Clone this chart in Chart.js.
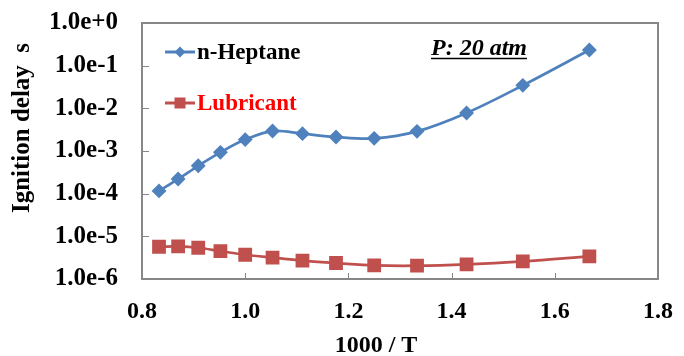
<!DOCTYPE html>
<html>
<head>
<meta charset="utf-8">
<script src="https://cdn.jsdelivr.net/npm/chart.js@4"></script>
<style>
  html,body{margin:0;padding:0;background:#fff;}
  #wrap{width:684px;height:356px;}
</style>
</head>
<body>
<div id="wrap"><canvas id="delayChart" width="684" height="356"></canvas></div>
<script>
// 1000/T values (T = 1200 ... 600 K)
const invT = [0.833, 0.870, 0.909, 0.952, 1.000, 1.053, 1.111, 1.176, 1.250, 1.333, 1.429, 1.538, 1.667];
const heptane = [1.16e-4, 2.2e-4, 4.5e-4, 9.3e-4, 1.85e-3, 2.94e-3, 2.55e-3, 2.13e-3, 1.98e-3, 2.89e-3, 7.8e-3, 3.46e-2, 0.233];
const lubricant = [5.7e-6, 5.8e-6, 5.4e-6, 4.5e-6, 3.7e-6, 3.16e-6, 2.69e-6, 2.37e-6, 2.09e-6, 2.05e-6, 2.21e-6, 2.6e-6, 3.4e-6];
const yTicks = [1e-6, 1e-5, 1e-4, 1e-3, 1e-2, 1e-1, 1e0];
const xTicks = [0.8, 1.0, 1.2, 1.4, 1.6, 1.8];
const seriesNames = ['n-Heptane', 'Lubricant'];

const BLUE = '#4F81BD', RED = '#C0504D';
const FONT = '"Liberation Serif", "Times New Roman", serif';

function pts(xs, ys){ return xs.map((x,i)=>({x, y:ys[i]})); }

// frame, inner tick marks, legend, annotation and axis titles
const decor = {
  id:'decor',
  afterDraw(chart){
    const ctx = chart.ctx, a = chart.chartArea;
    const xs = chart.scales.x, ys = chart.scales.y;
    ctx.save();
    ctx.strokeStyle = '#878787';
    ctx.lineWidth = 1;
    yTicks.forEach(v=>{
      const y = Math.round(ys.getPixelForValue(v)) + 0.5;
      ctx.beginPath(); ctx.moveTo(a.left, y); ctx.lineTo(a.left+7, y); ctx.stroke();
    });
    xTicks.forEach(v=>{
      const x = Math.round(xs.getPixelForValue(v)) + 0.5;
      ctx.beginPath(); ctx.moveTo(x, a.bottom); ctx.lineTo(x, a.bottom-6); ctx.stroke();
    });
    ctx.lineWidth = 2;
    ctx.strokeRect(a.left, a.top, a.right-a.left, a.bottom-a.top);

    // legend
    const items = [
      {name:seriesNames[0], color:BLUE, text:'#000', y:52, shape:'d'},
      {name:seriesNames[1], color:RED, text:'#FF0000', y:103, shape:'s'}
    ];
    ctx.font = 'bold 23px ' + FONT;
    ctx.textBaseline = 'middle';
    items.forEach(it=>{
      ctx.strokeStyle = it.color; ctx.lineWidth = 3;
      ctx.beginPath(); ctx.moveTo(165, it.y); ctx.lineTo(195, it.y); ctx.stroke();
      ctx.fillStyle = it.color;
      ctx.beginPath();
      if(it.shape==='d'){ ctx.moveTo(180, it.y-5.5); ctx.lineTo(185.5, it.y); ctx.lineTo(180, it.y+5.5); ctx.lineTo(174.5, it.y); ctx.closePath(); }
      else { ctx.rect(174.5, it.y-5.5, 11, 11); }
      ctx.fill();
      ctx.fillStyle = it.text;
      ctx.textAlign = 'left';
      ctx.fillText(it.name, 197, it.y+1);
    });

    // pressure note
    ctx.fillStyle = '#000';
    ctx.font = 'italic bold 24px ' + FONT;
    ctx.textAlign = 'left';
    ctx.textBaseline = 'alphabetic';
    const note = 'P: 20 atm';
    ctx.fillText(note, 431, 55);
    const w = ctx.measureText(note).width;
    ctx.lineWidth = 1.5; ctx.strokeStyle = '#000';
    ctx.beginPath(); ctx.moveTo(431, 58.5); ctx.lineTo(431+w, 58.5); ctx.stroke();

    // axis titles
    ctx.font = 'bold 24px ' + FONT;
    ctx.textAlign = 'center';
    ctx.textBaseline = 'middle';
    ctx.fillText('1000 / T', 376, 346);
    ctx.font = 'bold 25px ' + FONT;
    ctx.translate(23, 128);
    ctx.rotate(-Math.PI/2);
    ctx.fillText('Ignition delay  s', 0, 0);
    ctx.restore();
  }
};

new Chart(document.getElementById('delayChart'), {
  type:'line',
  data:{
    datasets:[
      { label:seriesNames[0], data:pts(invT, heptane), borderColor:BLUE, backgroundColor:BLUE,
        borderWidth:2.75, pointStyle:'rectRot', pointRadius:5.5, tension:0.35 },
      { label:seriesNames[1], data:pts(invT, lubricant), borderColor:RED, backgroundColor:RED,
        borderWidth:2.75, pointStyle:'rect', pointRadius:7.8, tension:0.35 }
    ]
  },
  options:{
    responsive:false, animation:false,
    layout:{padding:{top:23, right:26, left:0, bottom:0}},
    plugins:{legend:{display:false}, tooltip:{enabled:false}},
    scales:{
      x:{
        type:'linear', min:0.8, max:1.8,
        afterBuildTicks(s){ s.ticks = xTicks.map(v=>({value:v})); },
        afterFit(s){ s.height = 77; s.paddingLeft = 0; s.paddingRight = 0; },
        grid:{display:false, drawTicks:false}, border:{display:false},
        ticks:{ padding:18, color:'#000', font:{family:FONT, size:24, weight:'bold'},
          callback:v=>Number(v).toFixed(1), maxRotation:0 }
      },
      y:{
        type:'logarithmic', min:1e-6, max:1,
        afterBuildTicks(s){ s.ticks = yTicks.map(v=>({value:v})); },
        afterFit(s){ s.width = 142; s.paddingTop = 0; s.paddingBottom = 0; },
        grid:{display:false, drawTicks:false}, border:{display:false},
        ticks:{ padding:24, color:'#000', font:{family:FONT, size:25, weight:'bold'},
          callback:v=>{ const e = Math.round(Math.log10(v)); return '1.0e' + (e>=0?'+':'') + e; } }
      }
    }
  },
  plugins:[decor]
});
</script>
</body>
</html>
